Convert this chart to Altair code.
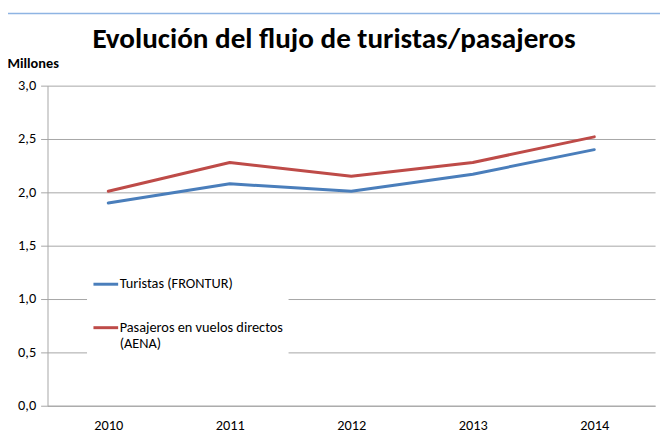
import altair as alt
import pandas as pd

years = ["2010", "2011", "2012", "2013", "2014"]
turistas = [1.90, 2.08, 2.01, 2.17, 2.40]
pasajeros = [2.01, 2.28, 2.15, 2.28, 2.52]
series_names = ["Turistas (FRONTUR)", "Pasajeros en vuelos directos (AENA)"]
series_colors = ["#4A7EBB", "#BE4B48"]
y_ticks = [0, 0.5, 1.0, 1.5, 2.0, 2.5, 3.0]
title_text = "Evolución del flujo de turistas/pasajeros"

FONT = "Carlito, Lato, sans-serif"

rows = []
for name, vals in zip(series_names, [turistas, pasajeros]):
    for yr, v in zip(years, vals):
        rows.append({"year": yr, "value": v, "serie": name})
df = pd.DataFrame(rows)

label_expr = ("datum.label == 'Pasajeros en vuelos directos (AENA)' ? "
              "['Pasajeros en vuelos directos', '(AENA)'] : datum.label")

lines = alt.Chart(df).mark_line(strokeWidth=3, strokeCap="round", strokeJoin="round").encode(
    x=alt.X("year:N", sort=years, title=None,
            scale=alt.Scale(paddingInner=0, paddingOuter=0),
            axis=alt.Axis(labelAngle=0, ticks=False, grid=False, labelPadding=13,
                          domainColor="#A6A6A6", labelFontSize=14.5, labelColor="#000000",
                          labelFont=FONT)),
    y=alt.Y("value:Q", title="Millones",
            scale=alt.Scale(domain=[0, 3], nice=False),
            axis=alt.Axis(values=y_ticks,
                          labelExpr="replace(format(datum.value, '.1f'), '.', ',')",
                          tickSize=7, tickColor="#A6A6A6", domainColor="#A6A6A6",
                          gridColor="#A6A6A6", labelPadding=5, labelFontSize=14.5,
                          labelColor="#000000", labelFont=FONT,
                          titleAngle=0, titleAlign="left", titleBaseline="alphabetic",
                          titleX=-41, titleY=-18, titleFont=FONT, titleFontSize=14.5,
                          titleFontWeight="bold", titleColor="#000000")),
    color=alt.Color("serie:N", sort=series_names,
                    scale=alt.Scale(domain=series_names, range=series_colors),
                    legend=alt.Legend(title=None, orient="none", legendX=40, legendY=182,
                                      fillColor="#FFFFFF", padding=5,
                                      symbolType="stroke", symbolSize=625,
                                      symbolStrokeWidth=3, labelOffset=0,
                                      labelFont=FONT, labelFontSize=14.5,
                                      labelColor="#000000", labelLimit=300,
                                      rowPadding=23, labelExpr=label_expr)),
)

border = alt.Chart(pd.DataFrame({"a": [0]})).mark_rule(color="#8EB4E3", strokeWidth=1.5).encode(
    x=alt.value(-45), x2=alt.value(625), y=alt.value(-73)
)

title = alt.Chart(pd.DataFrame({"t": [title_text]})).mark_text(
    font=FONT, fontSize=29.5, fontWeight="bold", color="#000000",
    align="center", baseline="alphabetic"
).encode(text="t:N", x=alt.value(290), y=alt.value(-38))

chart = alt.layer(border, title, lines).properties(
    width=615, height=324,
    padding={"left": 40, "top": 76, "right": 5, "bottom": 25},
    autosize=alt.AutoSizeParams(type="none"),
).configure_view(stroke=None).configure_axis(gridWidth=1)

chart.save("out.html", embed_options={"renderer": "svg", "actions": False})
